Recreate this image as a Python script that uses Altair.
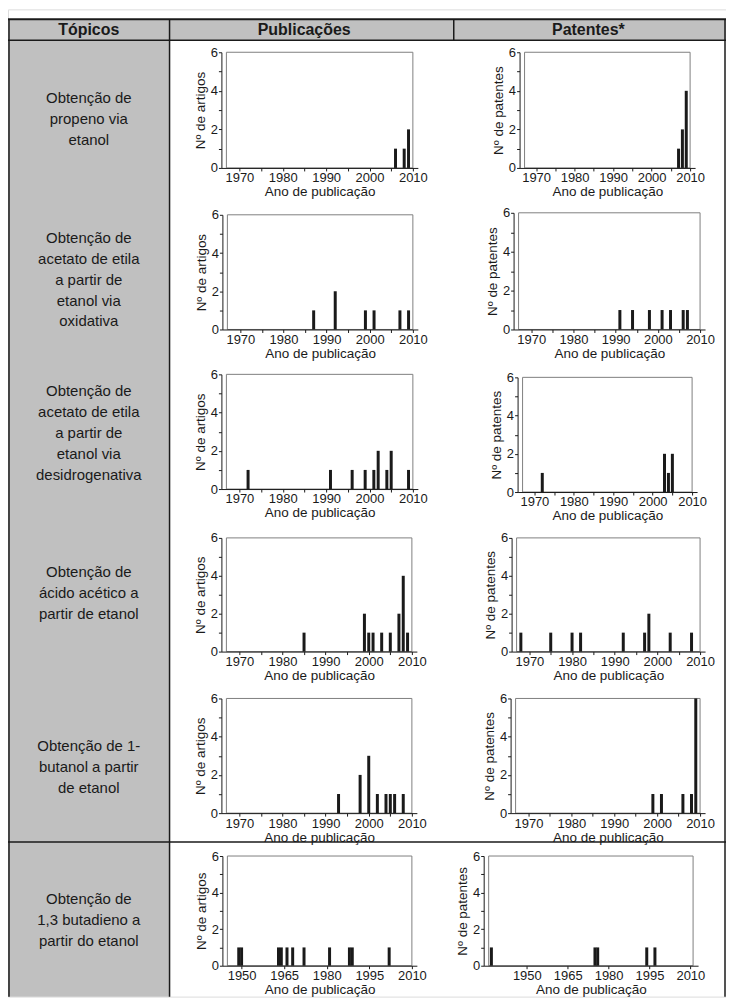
import altair as alt
import pandas as pd

W, H = 720, 990

HEADERS = ["Tópicos", "Publicações", "Patentes*"]
TOPICS = [
    "Obtenção de\npropeno via\netanol",
    "Obtenção de\nacetato de etila\na partir de\netanol via\noxidativa",
    "Obtenção de\nacetato de etila\na partir de\netanol via\ndesidrogenativa",
    "Obtenção de\nácido acético a\npartir de etanol",
    "Obtenção de 1-\nbutanol a partir\nde etanol",
    "Obtenção de\n1,3 butadieno a\npartir do etanol",
]

PUB_YEARS = [
    [2006, 2008, 2009],
    [1987, 1992, 1999, 2001, 2007, 2009],
    [1972, 1991, 1996, 1999, 2001, 2002, 2004, 2005, 2009],
    [1985, 1999, 2000, 2001, 2003, 2005, 2007, 2008, 2009],
    [1993, 1998, 2000, 2002, 2004, 2005, 2006, 2008],
    [1949, 1950, 1963, 1964, 1966, 1968, 1972, 1981, 1988, 1989, 2002],
]
PUB_COUNTS = [
    [1, 1, 2],
    [1, 2, 1, 1, 1, 1],
    [1, 1, 1, 1, 1, 2, 1, 2, 1],
    [1, 2, 1, 1, 1, 1, 2, 4, 1],
    [1, 2, 3, 1, 1, 1, 1, 1],
    [1, 1, 1, 1, 1, 1, 1, 1, 1, 1, 1],
]
PAT_YEARS = [
    [2007, 2008, 2009],
    [1991, 1994, 1998, 2001, 2003, 2006, 2007],
    [1972, 2003, 2004, 2005],
    [1968, 1975, 1980, 1982, 1992, 1997, 1998, 2003, 2008],
    [1999, 2001, 2006, 2008, 2009],
    [1937, 1975, 1976, 1994, 1997],
]
PAT_COUNTS = [
    [1, 2, 4],
    [1, 1, 1, 1, 1, 1, 1],
    [1, 2, 1, 2],
    [1, 1, 1, 1, 1, 1, 2, 1, 1],
    [1, 1, 1, 1, 6],
    [1, 1, 1, 1, 1],
]

DOMAIN_A = [1967, 2010]
DOMAIN_PUB6 = [1945, 2010]
DOMAIN_PAT6 = [1936, 2011]
TICKS_A = [1970, 1975, 1980, 1985, 1990, 1995, 2000, 2005, 2010]
TICKS_B = [1950, 1965, 1980, 1995, 2010]
Y_TICKS = [0, 1, 2, 3, 4, 5, 6]

# layout (pixels, chart coordinates)
PUB_X = [[214, 411], [215, 411], [214, 411], [214, 410], [214, 410], [215, 410]]
PUB_Y = [[159, 43], [321, 206], [481, 366], [644, 530], [806, 691], [959, 849]]
PAT_X = [[513, 689], [507, 699], [511, 691], [505, 699], [504, 699], [477, 692]]
PAT_Y = [[159, 43], [321, 204], [484, 369], [644, 530], [806, 691], [959, 849]]
TOPIC_Y = [110, 271, 425, 585, 760, 913]
LINE_H = 21

LABEL_FONT = "Liberation Sans Narrow, Arial Narrow, Liberation Sans, Arial, sans-serif"
TITLE_FONT = "Liberation Sans, Arial, sans-serif"
INK = "#1a1a1a"
GRAY = "#c0c0c0"

one = pd.DataFrame({"k": [0]})


def panel(years, counts, dom, xr, yr, ytitle, xticks, every10):
    df = pd.DataFrame({"ano": years, "n": counts})
    fr = pd.DataFrame({"x0": [dom[0]], "x1": [dom[1]], "y0": [0], "y1": [6]})
    xs = alt.Scale(domain=dom, range=xr, nice=False, zero=False)
    ys = alt.Scale(domain=[0, 6], range=yr, nice=False)
    lab = "datum.value % 10 == 0 ? datum.label : ''" if every10 else "datum.label"
    common = dict(grid=False, domainColor=INK, tickColor=INK, labelColor=INK,
                  titleColor=INK, labelFont=LABEL_FONT, labelFontSize=13,
                  titleFont=TITLE_FONT, titleFontSize=13.5, titleFontWeight="normal",
                  tickSize=3, labelOverlap=False, zindex=2)
    xa = alt.Axis(orient="bottom", offset=yr[0] - H, values=xticks, format="d",
                  labelExpr=lab, title="Ano de publicação", labelPadding=1,
                  titlePadding=0, labelFlush=False, **common)
    ya = alt.Axis(orient="left", offset=-xr[0], values=Y_TICKS,
                  labelExpr="datum.value % 2 == 0 ? datum.label : ''",
                  title=ytitle, labelPadding=1, titlePadding=3, **common)
    frame = alt.Chart(fr).mark_rect(fillOpacity=0, stroke="#808080", strokeWidth=1).encode(
        x=alt.X("x0:Q", scale=xs, axis=xa), x2="x1:Q",
        y=alt.Y("y0:Q", scale=ys, axis=ya), y2="y1:Q")
    bars = alt.Chart(df).mark_bar(size=3, color=INK).encode(
        x=alt.X("ano:Q", scale=xs, axis=xa),
        y=alt.Y("n:Q", scale=ys, axis=ya))
    return alt.layer(frame, bars)


layers = []
# backgrounds
layers.append(alt.Chart(one).mark_rect(color=GRAY).encode(
    x=alt.value(0), x2=alt.value(W), y=alt.value(10), y2=alt.value(31)))
layers.append(alt.Chart(one).mark_rect(color=GRAY).encode(
    x=alt.value(0), x2=alt.value(162), y=alt.value(31), y2=alt.value(H)))


def hline(y, x0, x1, w):
    return alt.Chart(one).mark_rule(color=INK, strokeWidth=w).encode(
        x=alt.value(x0), x2=alt.value(x1), y=alt.value(y))


def vline(x, y0, y1, w):
    return alt.Chart(one).mark_rule(color=INK, strokeWidth=w).encode(
        x=alt.value(x), y=alt.value(y0), y2=alt.value(y1))


layers += [
    hline(10, 0, W, 2),
    hline(31, 0, W, 1.5),
    hline(835, 0, W, 1.5),
    vline(1, 10, H, 1.5),
    vline(W - 1, 10, H, 1.5),
    vline(162, 10, H, 1.5),
    vline(447, 10, 31, 1.5),
]

# headers
for txt, cx in zip(HEADERS, [81, 297, 582]):
    layers.append(alt.Chart(one).mark_text(
        font=TITLE_FONT, fontSize=16, fontWeight="bold", color=INK, baseline="middle").encode(
        x=alt.value(cx), y=alt.value(21), text=alt.value(txt)))

# topics (first line placed so that the block is centred on the row centre)
for txt, cy in zip(TOPICS, TOPIC_Y):
    n_lines = txt.count("\n") + 1
    y_first = cy - (n_lines - 1) * LINE_H / 2
    layers.append(alt.Chart(pd.DataFrame({"t": [txt]})).mark_text(
        font=TITLE_FONT, fontSize=15, color=INK, baseline="middle",
        lineBreak="\n", lineHeight=LINE_H).encode(
        x=alt.value(81), y=alt.value(y_first), text="t:N"))

# panels
for i in range(6):
    last = i == 5
    ticks = TICKS_B if last else TICKS_A
    layers.append(panel(PUB_YEARS[i], PUB_COUNTS[i], DOMAIN_PUB6 if last else DOMAIN_A,
                        PUB_X[i], PUB_Y[i], "Nº de artigos", ticks, not last))
    layers.append(panel(PAT_YEARS[i], PAT_COUNTS[i], DOMAIN_PAT6 if last else DOMAIN_A,
                        PAT_X[i], PAT_Y[i], "Nº de patentes", ticks, not last))

chart = alt.layer(*layers).resolve_scale(
    x="independent", y="independent").resolve_axis(
    x="independent", y="independent").properties(
    width=W, height=H, padding=0,
    autosize=alt.AutoSizeParams(type="none")).configure_view(stroke=None).configure(
    background="white")

chart.save("out.html", embed_options={"renderer": "svg", "actions": False})
